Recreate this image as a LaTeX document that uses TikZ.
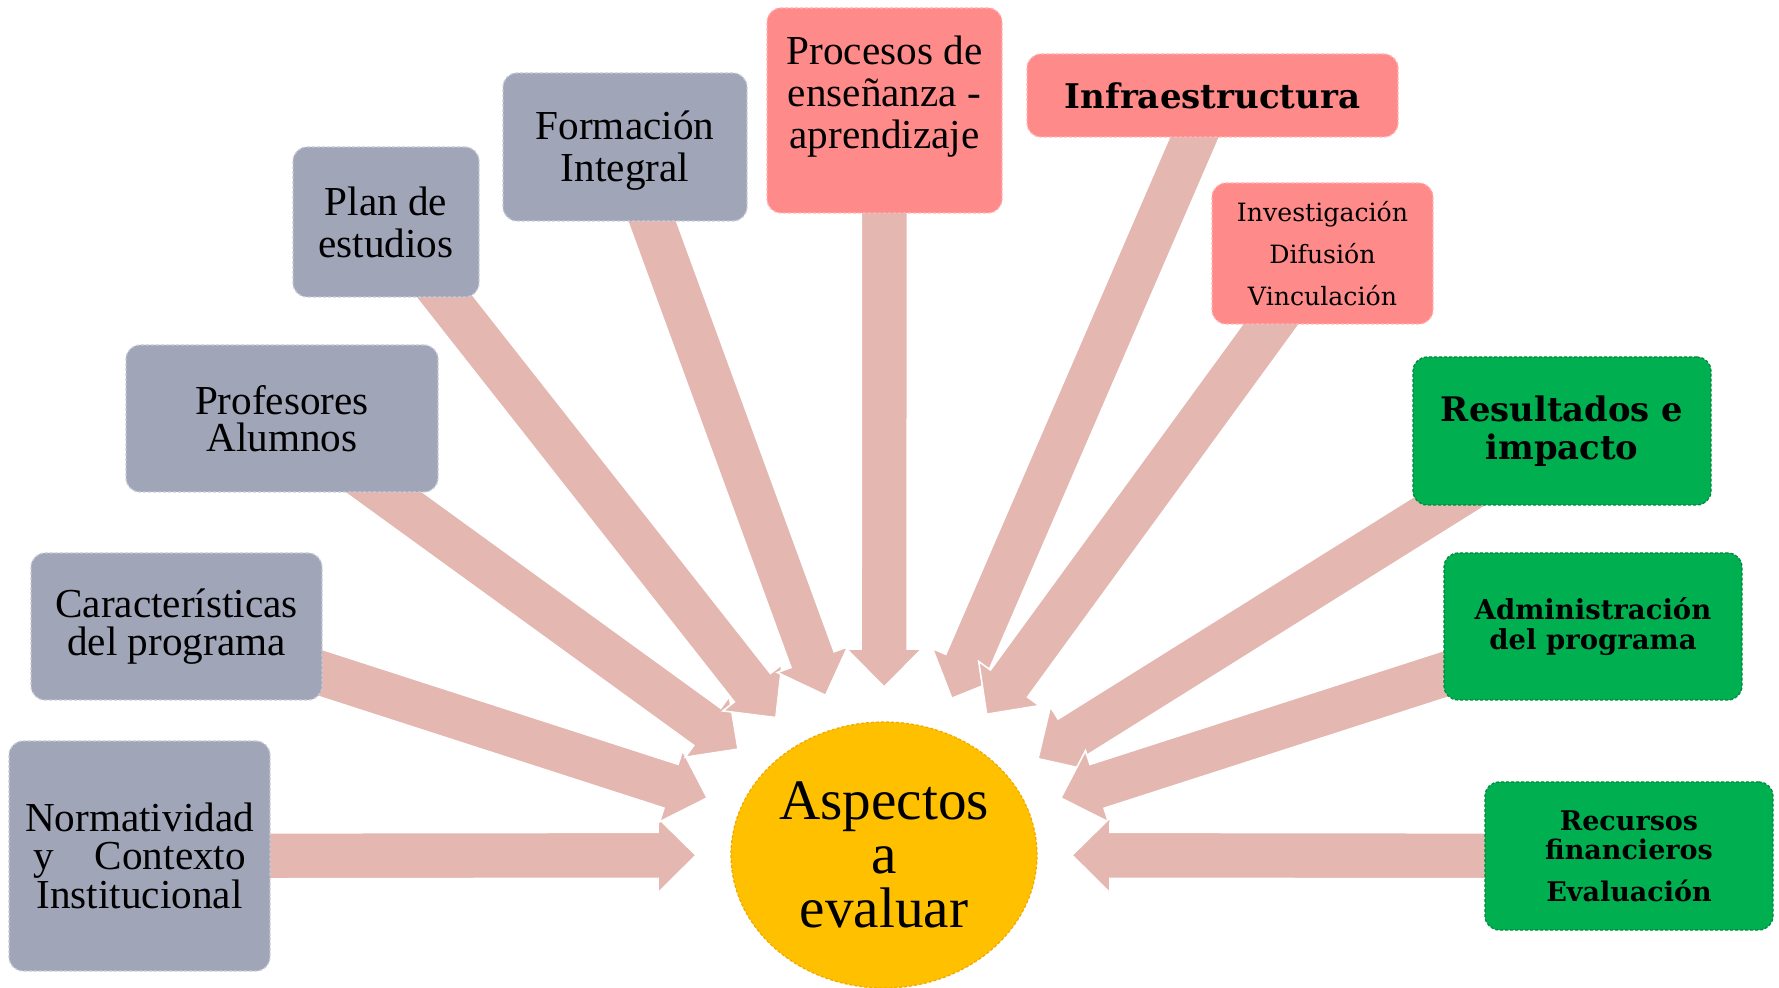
\documentclass[tikz,border=0pt]{standalone}
\usepackage{fontspec}
\setmainfont{Liberation Serif}
\newfontfamily\geo{DejaVu Serif}
\usetikzlibrary{calc,shapes.geometric}
\definecolor{grayfill}{HTML}{A0A5B8}
\definecolor{grayline}{HTML}{C9CCD8}
\definecolor{pinkfill}{HTML}{FF8A8A}
\definecolor{pinkline}{HTML}{FFB4B4}
\definecolor{greenfill}{HTML}{00B050}
\definecolor{greenline}{HTML}{00883C}
\definecolor{arrowfill}{HTML}{E4B7B1}
\definecolor{yellowfill}{HTML}{FFC000}
\definecolor{yellowline}{HTML}{F0A800}
\pgfdeclarelayer{bg}
\pgfsetlayers{bg,main}
\newcommand\blockarrow[1]{%
  \path (#1.center) -- (ell) coordinate[pos=1] (#1-t);
  \coordinate (#1-h) at ($(#1-t)!19pt!(#1.center)$);
  \filldraw[fill=arrowfill, draw=white, line width=0.8pt]
    ($(#1.center)!11.5pt!90:(#1-t)$) -- ($(#1-h)!11.5pt!90:(#1-t)$)
    -- ($(#1-h)!18.75pt!90:(#1-t)$) -- (#1-t)
    -- ($(#1-h)!18.75pt!-90:(#1-t)$) -- ($(#1-h)!11.5pt!-90:(#1-t)$)
    -- ($(#1.center)!11.5pt!-90:(#1-t)$) -- cycle;
}
\begin{document}
\begin{tikzpicture}[x=0.5pt,y=-0.5pt,
  tbox/.style={rounded corners=7pt, inner sep=0pt, align=center, line width=0.6pt, dash pattern=on 1.5pt off 1pt},
  graybox/.style={tbox, fill=grayfill, draw=grayline},
  pinkbox/.style={tbox, fill=pinkfill, draw=pinkline},
  greenbox/.style={tbox, fill=greenfill, draw=greenline},
  tnr/.style={font=\fontsize{20.6pt}{18.7pt}\selectfont},
  tnrb/.style={font=\fontsize{20.6pt}{21pt}\selectfont, align=center},
]
\useasboundingbox (0,0) rectangle (1779,988);

\node[graybox, minimum width=130.5pt, minimum height=115pt, tnr] (norm) at (139.5,856)
  {Normatividad\\y\hspace{1.0em}Contexto\\Institucional};
\node[graybox, minimum width=145.5pt, minimum height=73.5pt, tnr] (carac) at (176.5,626.5)
  {Características\\del programa};
\node[graybox, minimum width=156pt, minimum height=73.5pt, tnr] (prof) at (282,418.5)
  {Profesores\\Alumnos};
\node[graybox, minimum width=93pt, minimum height=75pt, tnrb] (plan) at (386,222)
  {Plan de\\estudios};
\node[graybox, minimum width=122pt, minimum height=74pt] (form) at (625,147) {};
\node[tnrb] (formt) at (625,151) {Formación\\Integral};
\node[pinkbox, minimum width=117.5pt, minimum height=102.5pt] (proc) at (884.5,110.5) {};
\node[tnrb] (proct) at (884.5,96.5) {Procesos de\\enseñanza -\\aprendizaje};
\node[pinkbox, minimum width=185.5pt, minimum height=41.5pt,
  font=\geo\bfseries\fontsize{17pt}{20pt}\selectfont] (infra) at (1212.5,95.5) {Infraestructura};
\node[pinkbox, minimum width=110.5pt, minimum height=70.5pt,
  font=\geo\fontsize{12.6pt}{21pt}\selectfont] (inv) at (1322.5,253.5)
  {Investigación\\Difusión\\Vinculación};
\node[greenbox, minimum width=149pt, minimum height=74pt,
  font=\geo\bfseries\fontsize{16.9pt}{19.3pt}\selectfont] (res) at (1562,431)
  {Resultados e\\impacto};
\node[greenbox, minimum width=149pt, minimum height=73.5pt,
  font=\geo\bfseries\fontsize{13.75pt}{15.3pt}\selectfont] (adm) at (1593,626.5)
  {Administración\\del programa};
\node[greenbox, minimum width=144pt, minimum height=74pt,
  font=\geo\bfseries\fontsize{13.5pt}{14.75pt}\selectfont] (rec) at (1629,856)
  {Recursos\\financieros\\[6pt]Evaluación};
\node[ellipse, fill=yellowfill, draw=yellowline, line width=0.6pt, dash pattern=on 1.5pt off 1pt,
  minimum width=153pt, minimum height=133pt, inner sep=0pt, outer sep=17.5pt, align=center,
  font=\fontsize{28.6pt}{27pt}\selectfont] (ell) at (884,855) {Aspectos\\a\\evaluar};

\begin{pgfonlayer}{bg}
\blockarrow{norm}
\blockarrow{carac}
\blockarrow{prof}
\blockarrow{plan}
\blockarrow{form}
\blockarrow{proc}
\blockarrow{infra}
\blockarrow{inv}
\blockarrow{res}
\blockarrow{adm}
\blockarrow{rec}
\end{pgfonlayer}
\end{tikzpicture}
\end{document}
